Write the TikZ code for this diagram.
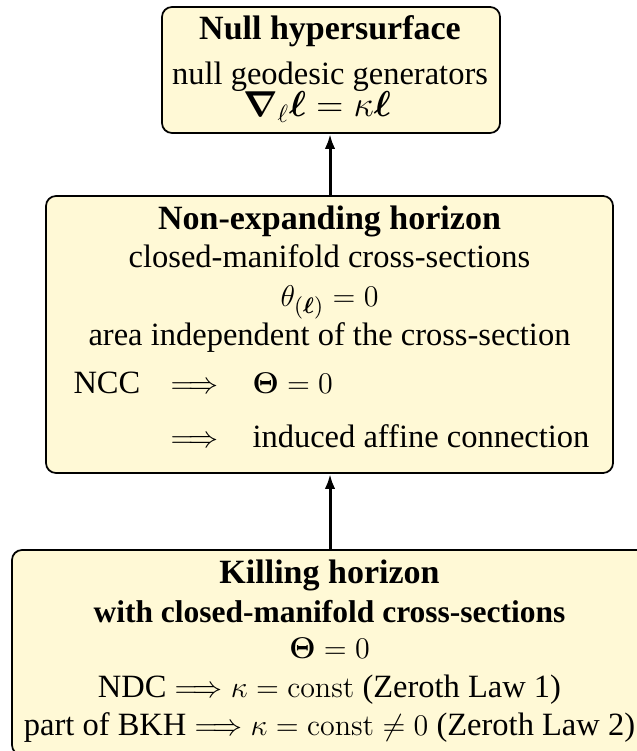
\documentclass[tikz,border=0pt]{standalone}
\usepackage{amsmath,bm}
\usepackage[no-math]{fontspec}
\setmainfont{Liberation Serif}
\usetikzlibrary{arrows.meta}
\definecolor{boxfill}{RGB}{255,249,214}
\begin{document}
\begin{tikzpicture}[x=0.4pt,y=-0.4pt,
  box/.style={draw, line width=0.7pt, rounded corners=4pt, fill=boxfill, inner sep=0pt},
  txt/.style={anchor=base, inner sep=0pt, font=\fontsize{13}{15.6}\selectfont},
  ttl/.style={txt, font=\fontsize{13.6}{16}\selectfont\bfseries},
  ltxt/.style={txt, anchor=base west},
  conn/.style={-{Latex[length=6pt,width=4.2pt]}, line width=1.2pt}]
\useasboundingbox (0,0) rectangle (637,751);
\clip (0,0) rectangle (637,751);
% boxes
\node[box, minimum width=135.2pt, minimum height=50.4pt] (nhB) at (331,70) {};
\node[box, minimum width=226.8pt, minimum height=110.8pt] (neB) at (329.5,334.5) {};
\node[box, minimum width=254pt, minimum height=82pt] (khB) at (329.5,652.5) {};
% null hypersurface
\node[ttl] (nh1) at (330,40) {Null hypersurface};
\node[txt] (nh2) at (330,85) {null geodesic generators};
\node[txt, font=\fontsize{14}{16}\selectfont] (nh3) at (317,117) {$\bm{\nabla}_{\ell}\bm{\ell}=\kappa\bm{\ell}$};
% non-expanding horizon
\node[ttl] (ne1) at (329.5,230) {Non-expanding horizon};
\node[txt] (ne2) at (329.5,268) {closed-manifold cross-sections};
\node[txt] (ne3) at (329.5,307) {$\theta_{(\bm{\ell})}=0$};
\node[txt] (ne4) at (329.5,345) {area independent of the cross-section};
\node[ltxt] (ne5a) at (73,393) {NCC};
\node[ltxt] (ne5b) at (170,393) {$\Longrightarrow$};
\node[ltxt] (ne5c) at (252,393) {$\bm{\Theta}=0$};
\node[ltxt] (ne6b) at (170,447) {$\Longrightarrow$};
\node[ltxt] (ne6c) at (252,447) {induced affine connection};
% killing horizon
\node[ttl] (kh1) at (329.5,583) {Killing horizon};
\node[txt, font=\fontsize{12.6}{15}\selectfont\bfseries] (kh2) at (329.5,622) {with closed-manifold cross-sections};
\node[txt] (kh3) at (329.5,658) {$\bm{\Theta}=0$};
\node[txt] (kh4) at (329.5,697) {NDC $\Longrightarrow\kappa=\mathrm{const}$ (Zeroth Law 1)};
\node[txt] (kh5) at (329.5,735) {part of BKH $\Longrightarrow\kappa=\mathrm{const}\neq0$ (Zeroth Law 2)};
% connectors
\draw[conn] (neB.north -| 330,0) -- (nhB.south -| 330,0);
\draw[conn] (khB.north -| 330,0) -- (neB.south -| 330,0);
\end{tikzpicture}
\end{document}
